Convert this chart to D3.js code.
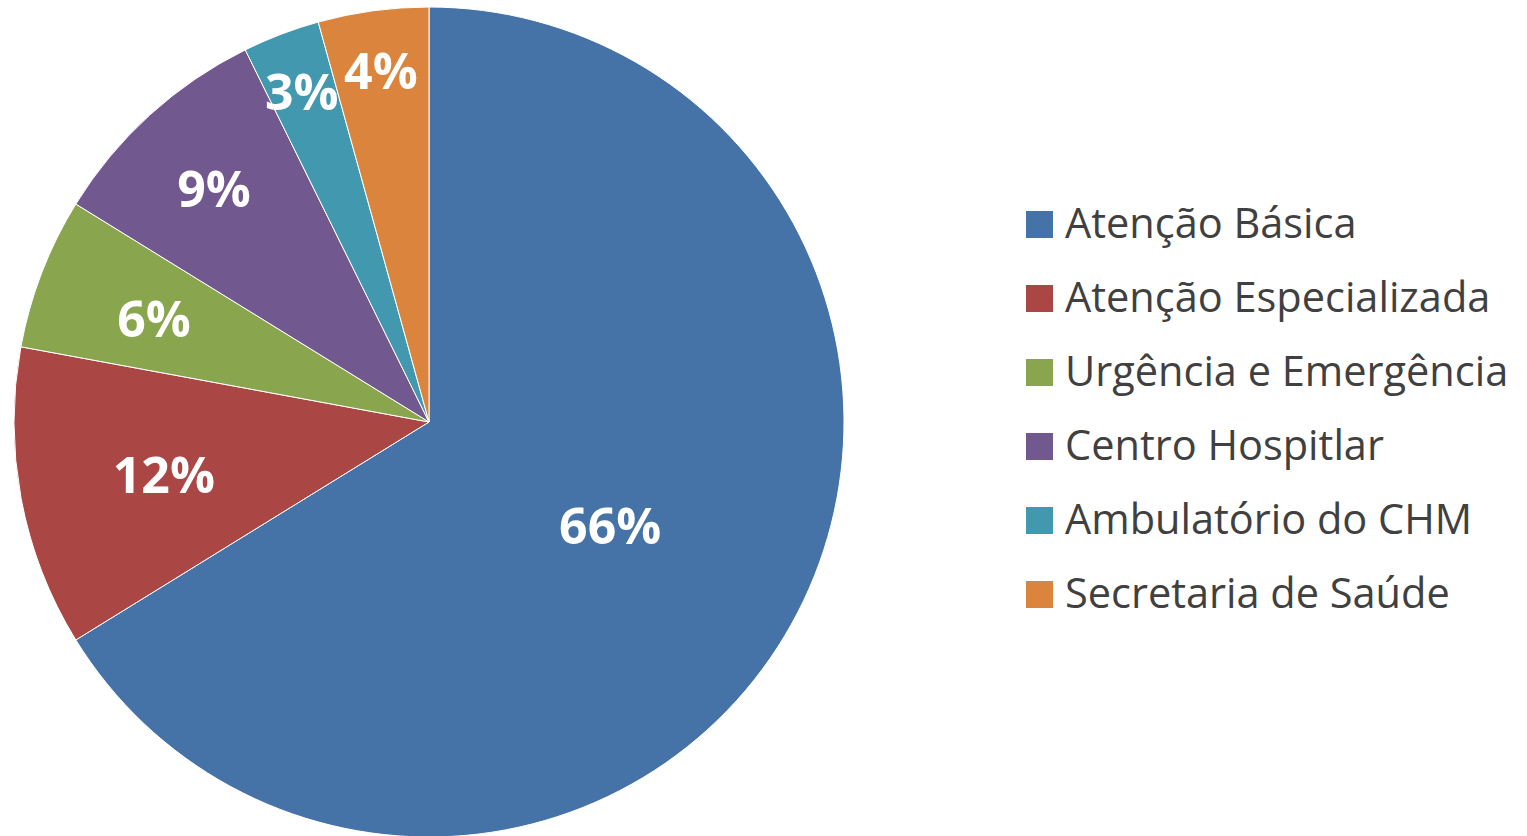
<!DOCTYPE html>
<html>
<head>
<meta charset="utf-8">
<script src="https://cdn.jsdelivr.net/npm/d3@7"></script>
<style>
    body { margin: 0; background: #fff; }
    svg { display: block; }
</style>
</head>
<body>
<svg id="chart"></svg>
<script>
// Share of each service (percent)
const categories = ['Atenção Básica', 'Atenção Especializada', 'Urgência e Emergência', 'Centro Hospitlar', 'Ambulatório do CHM', 'Secretaria de Saúde'];
const values = [66.2, 11.7, 5.9, 8.9, 3.0, 4.3];
const labels = ['66%', '12%', '6%', '9%', '3%', '4%'];
const colors = ['#4572A7', '#AA4643', '#89A54E', '#71588F', '#4198AF', '#DB843D'];
// label distance from centre, as a share of the radius (Excel "best fit")
const labelRadius = [0.5, 0.65, 0.71, 0.77, 0.86, 0.86];

const width = 1527, height = 836;
const cx = 429, cy = 422, radius = 415;

const svg = d3.select('#chart')
    .attr('width', width)
    .attr('height', height);

const data = categories.map((c, i) => ({ name: c, value: values[i], label: labels[i], color: colors[i], k: labelRadius[i] }));

const pie = d3.pie()
    .sort(null)
    .value(d => d.value);

const arc = d3.arc()
    .innerRadius(0)
    .outerRadius(radius);

const chart = svg.append('g')
    .attr('transform', `translate(${cx}, ${cy})`);

const arcs = pie(data);

chart.selectAll('.slice')
    .data(arcs)
    .enter()
    .append('path')
    .attr('class', 'slice')
    .attr('d', arc)
    .attr('fill', d => d.data.color)
    .attr('stroke', '#fff')
    .attr('stroke-width', 1);

chart.selectAll('.pct')
    .data(arcs)
    .enter()
    .append('text')
    .attr('class', 'pct')
    .attr('transform', d => {
        const r = radius * d.data.k;
        const c = d3.arc().innerRadius(r).outerRadius(r).centroid(d);
        return `translate(${c[0]}, ${c[1]})`;
    })
    .attr('text-anchor', 'middle')
    .attr('dy', '0.42em')
    .style('font-family', '"Open Sans", sans-serif')
    .style('font-weight', 'bold')
    .style('font-size', '50px')
    .attr('fill', '#fff')
    .text(d => d.data.label);

// Legend
const legend = svg.append('g')
    .attr('class', 'legend')
    .attr('transform', 'translate(1026, 211)');

const rowH = 74;

legend.selectAll('rect')
    .data(data)
    .enter()
    .append('rect')
    .attr('x', 0)
    .attr('y', (d, i) => i * rowH)
    .attr('width', 27)
    .attr('height', 27)
    .attr('fill', d => d.color);

legend.selectAll('text')
    .data(data)
    .enter()
    .append('text')
    .attr('x', 39)
    .attr('y', (d, i) => i * rowH + 27)
    .style('font-family', '"Open Sans", sans-serif')
    .style('font-size', '41.5px')
    .attr('fill', '#404040')
    .text(d => d.name);
</script>
</body>
</html>
